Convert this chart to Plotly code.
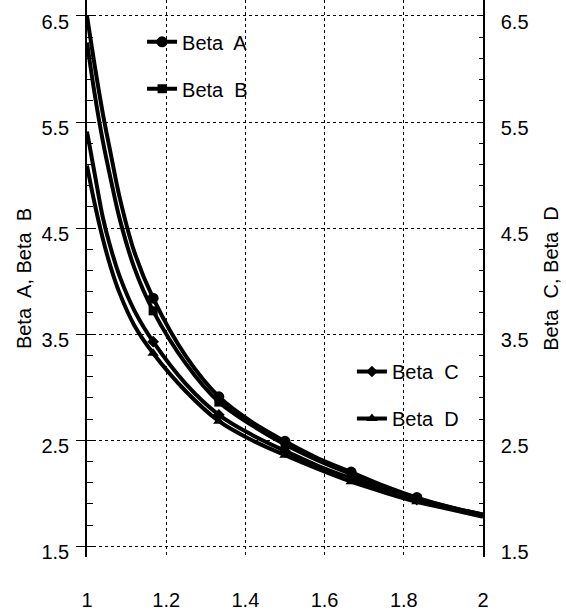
import plotly.graph_objects as go

# Data
x_vals = [1.0, 1.02, 1.04, 1.06, 1.083, 1.12, 1.167, 1.25, 1.333, 1.417, 1.5,
          1.583, 1.667, 1.75, 1.833, 1.917, 2.0]
beta_a = [6.50, 6.02, 5.58, 5.20, 4.78, 4.27, 3.84, 3.29, 2.91, 2.67, 2.49,
          2.33, 2.20, 2.07, 1.96, 1.87, 1.80]
beta_b = [6.25, 5.75, 5.32, 4.96, 4.58, 4.12, 3.72, 3.22, 2.86, 2.64, 2.46,
          2.31, 2.18, 2.05, 1.95, 1.87, 1.80]
beta_c = [5.41, 5.00, 4.60, 4.31, 4.04, 3.72, 3.43, 3.03, 2.74, 2.55, 2.40,
          2.26, 2.14, 2.03, 1.94, 1.86, 1.79]
beta_d = [5.09, 4.72, 4.40, 4.13, 3.88, 3.58, 3.32, 2.96, 2.68, 2.50, 2.36,
          2.23, 2.11, 2.01, 1.92, 1.85, 1.78]
marker_idx = [6, 8, 10, 12, 14]
y_ticks = [1.5, 2.5, 3.5, 4.5, 5.5, 6.5]

series = [
    ("Beta\u00a0 A", beta_a, "circle", 11, "y", "legend"),
    ("Beta\u00a0 B", beta_b, "square", 9, "y", "legend"),
    ("Beta\u00a0 C", beta_c, "diamond", 9, "y2", "legend2"),
    ("Beta\u00a0 D", beta_d, "triangle-up", 10, "y2", "legend2"),
]

FONT = "Liberation Sans, Arial, sans-serif"
fig = go.Figure()
for i, (name, ys, sym, ms, yax, leg) in enumerate(series):
    fig.add_trace(go.Scatter(
        x=x_vals, y=ys, name=name, mode="lines+markers",
        line=dict(color="black", width=4, shape="spline", smoothing=1),
        marker=dict(symbol=sym, size=ms, color="black"),
        selectedpoints=marker_idx,
        selected=dict(marker=dict(opacity=1)),
        unselected=dict(marker=dict(opacity=0)),
        yaxis=yax, legend=leg, legendgroup=f"g{i}",
    ))

yr = [1.4, 6.65]
common_y = dict(
    range=yr, tickmode="array", tickvals=y_ticks,
    ticktext=[f"{v:.1f}" for v in y_ticks],
    showline=True, linecolor="black", linewidth=1.5,
    showgrid=True, gridcolor="black", griddash="dot", gridwidth=1,
    zeroline=False, tickfont=dict(size=20, color="black", family=FONT),
    ticklabelshift=6, ticklabeloverflow="allow",
)
fig.update_layout(
    width=566, height=614,
    margin=dict(l=87, r=83, t=0, b=57),
    paper_bgcolor="white", plot_bgcolor="white",
    font=dict(family=FONT, color="black", size=20),
    xaxis=dict(
        range=[1, 2], dtick=0.2, tick0=1, showgrid=True, gridcolor="black",
        griddash="dot", gridwidth=1, zeroline=False, showline=False,
        ticks="", tickfont=dict(size=20), ticklabelstandoff=29,
    ),
    yaxis=dict(
        **common_y, side="left", ticks="outside", ticklen=9, tickcolor="black",
        ticklabelstandoff=3,
        minor=dict(tickmode="linear", tick0=1.5, dtick=0.2, ticks="inside",
                   ticklen=6, tickcolor="black", showgrid=False),
        title=dict(text="Beta\u00a0 A, Beta\u00a0 B", font=dict(size=20), standoff=4),
    ),
    yaxis2=dict(
        **common_y, side="right", overlaying="y", ticks="inside", ticklen=4,
        tickcolor="black", ticklabelstandoff=12,
        minor=dict(tickmode="linear", tick0=1.5, dtick=0.2, ticks="inside",
                   ticklen=4, tickcolor="black", showgrid=False),
        title=dict(text="Beta\u00a0 C, Beta\u00a0 D", font=dict(size=20), standoff=16),
    ),
    legend=dict(
        x=0.139, y=0.96, xanchor="left", yanchor="top",
        bgcolor="rgba(0,0,0,0)", font=dict(size=20), tracegroupgap=18,
    ),
    legend2=dict(
        x=0.669, y=0.368, xanchor="left", yanchor="top",
        bgcolor="rgba(0,0,0,0)", font=dict(size=20), tracegroupgap=18,
    ),
)
fig.write_html("out.html")
